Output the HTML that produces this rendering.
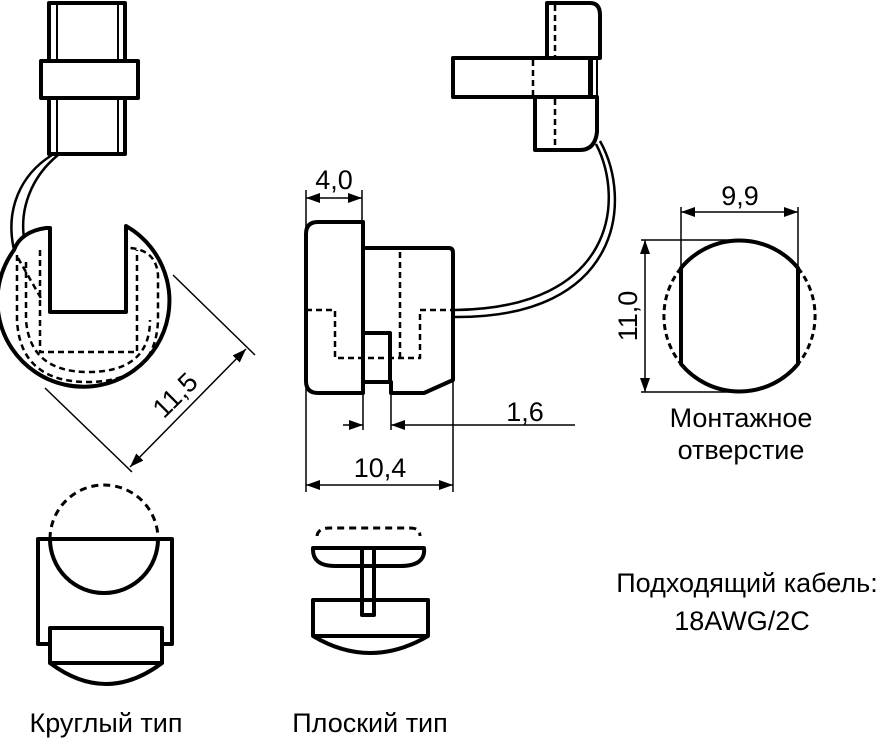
<!DOCTYPE html>
<html><head><meta charset="utf-8"><style>
html,body{margin:0;padding:0;background:#fff}
svg{display:block}
text{font-family:"Liberation Sans",Arial,sans-serif;fill:#000}
</style></head><body>
<svg width="884" height="754" viewBox="0 0 884 754" xmlns="http://www.w3.org/2000/svg">
<defs>
<marker id="a" markerWidth="14" markerHeight="10" refX="14" refY="5" orient="auto" markerUnits="userSpaceOnUse"><path d="M0,0 L14,5 L0,10 Z" fill="#000"/></marker>
<marker id="b" markerWidth="14" markerHeight="10" refX="0" refY="5" orient="auto" markerUnits="userSpaceOnUse"><path d="M14,0 L0,5 L14,10 Z" fill="#000"/></marker>
</defs>
<g fill="none" stroke="#000" stroke-width="4" stroke-linejoin="round">
<rect x="49" y="3" width="76" height="151" fill="#fff"/>
<line x1="57" y1="3" x2="57" y2="154" stroke-width="2"/>
<line x1="118" y1="3" x2="118" y2="154" stroke-width="2"/>
<rect x="41" y="61" width="97" height="37" fill="#fff"/>
<path d="M52,155 C20,175 5,210 14,250" stroke-width="2.5"/>
<path d="M58,155 C30,178 20,210 24,238" stroke-width="2.5"/>
<path d="M46,228 L50,228 L50,312 L126,312 L126,226 A86,86 0 1 1 14,250 C18,238 30,230 46,228 Z"/>
<path d="M17,255 L17,320 Q20,382 88,382 Q156,382 158,320 L158,275 Q156,250 130,248" stroke-width="2.5" stroke-dasharray="6,4"/>
<path d="M26,262 L26,320 Q30,372 88,372 Q150,372 150,320" stroke-width="2.5" stroke-dasharray="6,4"/>
<path d="M40,250 L40,352 L137,352 L137,250" stroke-width="2.5" stroke-dasharray="6,4"/>
<path d="M18,258 L42,300" stroke-width="2.5" stroke-dasharray="6,4"/>
<path d="M318,222 L363,222 L363,393 L318,393 Q306,393 306,381 L306,234 Q306,222 318,222 Z" fill="#fff"/>
<path d="M363,248 L449,248 Q453,248 453,253 L453,380 L424,393 L391,393 L391,382 L363,382"/>
<rect x="363" y="333" width="27" height="49"/>
<path d="M400,252 L400,358" stroke-width="2.5" stroke-dasharray="6,4"/>
<path d="M306,310 L335,310 L335,358 L420,358 L420,310 L453,310" stroke-width="2.5" stroke-dasharray="6,4"/>
<path d="M547,3 L590,3 Q600,3 600,15 L600,58 L547,58 Z" fill="#fff"/>
<rect x="453" y="58" width="137" height="39" fill="#fff"/>
<line x1="597" y1="58" x2="597" y2="97" stroke-width="2"/>
<line x1="592" y1="58" x2="592" y2="97" stroke-width="2"/>
<path d="M535,97 L597,97 L597,132 Q595,150 580,150 L535,150 Z" fill="#fff"/>
<path d="M555,5 L555,56 M533,60 L533,95 M555,99 L555,148" stroke-width="2.5" stroke-dasharray="6,4"/>
<path d="M596,144 C625,200 615,308 455,310" stroke-width="2.5"/>
<path d="M600,141 C633,200 622,318 455,317" stroke-width="2.5"/>
<path d="M681,268 A76,76 0 0 1 798,268 L798,364 A76,76 0 0 1 681,364 Z"/>
<path d="M681,268 A76,76 0 0 0 681,364 M798,268 A76,76 0 0 1 798,364" stroke-width="3" stroke-dasharray="6,4"/>
<rect x="38" y="539" width="134" height="105"/>
<path d="M50,539 A54,54 0 0 0 158,539"/>
<path d="M50,539 A54,54 0 0 1 158,539" stroke-width="3" stroke-dasharray="7,5"/>
<rect x="50" y="628" width="112" height="35" fill="#fff"/>
<path d="M50,663 Q106,705 162,663"/>
<path d="M317,536 Q318,528 330,528 L410,528 Q420,528 420,536" stroke-width="3" stroke-dasharray="7,5"/>
<path d="M313,548 L424,548 Q426,566 400,566 L335,566 Q312,566 313,548 Z"/>
<rect x="362" y="548" width="12" height="67"/>
<path d="M313,600 L428,600 L428,636 Q370,670 313,636 Z"/>
<line x1="313" y1="636" x2="428" y2="636"/>
</g>
<g fill="none" stroke="#000" stroke-width="1.5">
<line x1="173" y1="275" x2="255" y2="355"/>
<line x1="45" y1="388" x2="132" y2="472"/>
<line x1="130" y1="467" x2="246" y2="349" marker-start="url(#b)" marker-end="url(#a)"/>
<line x1="306" y1="190" x2="306" y2="492"/>
<line x1="362" y1="190" x2="362" y2="222"/>
<line x1="306" y1="198" x2="362" y2="198" marker-start="url(#b)" marker-end="url(#a)"/>
<line x1="363" y1="393" x2="363" y2="430"/>
<line x1="391" y1="393" x2="391" y2="430"/>
<line x1="343" y1="425" x2="363" y2="425" marker-end="url(#a)"/>
<line x1="575" y1="425" x2="391" y2="425" marker-end="url(#a)"/>
<line x1="453" y1="380" x2="453" y2="492"/>
<line x1="306" y1="485" x2="453" y2="485" marker-start="url(#b)" marker-end="url(#a)"/>
<line x1="681" y1="207" x2="681" y2="290"/>
<line x1="798" y1="207" x2="798" y2="290"/>
<line x1="681" y1="212" x2="798" y2="212" marker-start="url(#b)" marker-end="url(#a)"/>
<line x1="641" y1="240" x2="740" y2="240"/>
<line x1="641" y1="392" x2="740" y2="392"/>
<line x1="645" y1="240" x2="645" y2="392" marker-start="url(#b)" marker-end="url(#a)"/>
</g>
<g font-size="27">
<text x="176" y="404" text-anchor="middle" transform="rotate(-45 176 396)">11,5</text>
<text x="334" y="189" text-anchor="middle">4,0</text>
<text x="525" y="421" text-anchor="middle">1,6</text>
<text x="380" y="477" text-anchor="middle">10,4</text>
<text x="740" y="205" text-anchor="middle">9,9</text>
<text x="628" y="325" text-anchor="middle" transform="rotate(-90 628 316)">11,0</text>
<text x="741" y="427" text-anchor="middle">Монтажное</text>
<text x="741" y="459" text-anchor="middle">отверстие</text>
<text x="747" y="592" text-anchor="middle">Подходящий кабель:</text>
<text x="742" y="630" text-anchor="middle">18AWG/2C</text>
<text x="106" y="732" text-anchor="middle">Круглый тип</text>
<text x="370" y="732" text-anchor="middle">Плоский тип</text>
</g>
</svg>
</body></html>
